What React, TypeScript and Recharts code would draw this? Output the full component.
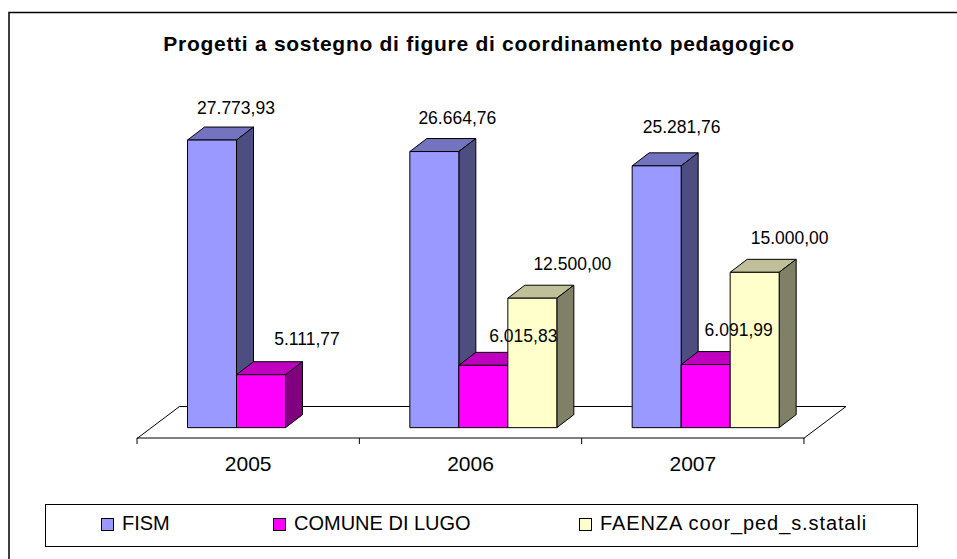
import React from 'react';
import { BarChart, Bar, XAxis, YAxis, Legend, LabelList } from 'recharts';

const categories = ['2005', '2006', '2007'];
const seriesNames = ['FISM', 'COMUNE DI LUGO', 'FAENZA coor_ped_s.statali'];
const fism = [27773.93, 26664.76, 25281.76];
const comune = [5111.77, 6015.83, 6091.99];
const faenza = [null, 12500, 15000];

const data = categories.map((name, i) => ({ name, fism: fism[i], comune: comune[i], faenza: faenza[i] }));

const WIDTH = 957;
const HEIGHT = 559;
const DEPTH_X = 17;
const DEPTH_Y = 13;
// le barre sono spostate rispetto al centro della categoria, come nel 3D di Excel
const SHIFT_X = 13.5;

// i colori delle facce: fronte, sopra, lato
const colors = {
  fism: ['#9999FF', '#7373BF', '#4D4D80'],
  comune: ['#FF00FF', '#BF00BF', '#800080'],
  faenza: ['#FFFFCC', '#BFBF99', '#808066'],
};

// spostamento delle etichette rispetto alla barra, messe a mano nell'originale
// (LabelList salta i valori nulli, quindi faenza ha solo due righe)
const labelOffsets: Record<string, number[][]> = {
  fism: [[24, -32], [23, -34], [25, -39]],
  comune: [[46, -36], [40, -29], [33, -35]],
  faenza: [[40, -34], [35, -34]],
};

const fmt = (v: number) => {
  const [a, b] = v.toFixed(2).split('.');
  return a.replace(/\B(?=(\d{3})+$)/g, '.') + ',' + b;
};

const Bar3D = (key: keyof typeof colors) => (props: any) => {
  const { x, y, width, height } = props;
  if (!height) return null;
  const [front, top, side] = colors[key];
  const l = x + SHIFT_X;
  const r = l + width;
  const b = y + height;
  return (
    <g stroke="#000" strokeWidth={1} strokeLinejoin="round">
      <polygon fill={top} points={`${l},${y} ${l + DEPTH_X},${y - DEPTH_Y} ${r + DEPTH_X},${y - DEPTH_Y} ${r},${y}`} />
      <polygon fill={side} points={`${r},${y} ${r + DEPTH_X},${y - DEPTH_Y} ${r + DEPTH_X},${b - DEPTH_Y} ${r},${b}`} />
      <rect x={l} y={y} width={width} height={height} fill={front} />
    </g>
  );
};

const valueLabel = (key: string) => (props: any) => {
  const { x, y, width, value, index } = props;
  if (value == null) return null;
  const [dx, dy] = labelOffsets[key][index];
  return (
    <text x={x + SHIFT_X + width / 2 + dx} y={y + dy} textAnchor="middle" dominantBaseline="central"
      fontFamily="Liberation Sans" fontSize={17.5} fill="#000">
      {fmt(value)}
    </text>
  );
};

const CategoryTick = (props: any) => {
  const { x, y, payload, index } = props;
  const band = 222.3;
  const axisY = y - 8;
  return (
    <g>
      <line x1={x - band / 2} x2={x - band / 2} y1={axisY} y2={axisY + 6} stroke="#000" />
      {index === categories.length - 1 && <line x1={x + band / 2} x2={x + band / 2} y1={axisY} y2={axisY + 6} stroke="#000" />}
      <text x={x} y={axisY + 25} textAnchor="middle" dominantBaseline="central" fontFamily="Liberation Sans" fontSize={21} fill="#000">
        {payload.value}
      </text>
    </g>
  );
};

const legendLeft = [101, 273, 579];
const legendSpacing = [0, 0, 0.9];

const LegendBox = ({ payload }: any) => (
  <div style={{ position: 'relative', width: 873, height: 43, border: '1px solid #000', boxSizing: 'border-box', fontFamily: 'Liberation Sans', fontSize: 20, color: '#000', background: '#fff' }}>
    {(payload || []).map((item: any, i: number) => (
      <div key={item.value} style={{ position: 'absolute', left: legendLeft[i] - 46, top: 0, lineHeight: '37px', whiteSpace: 'nowrap', letterSpacing: legendSpacing[i] }}>
        <span style={{ position: 'absolute', left: 0, top: 13, width: 13, height: 13, boxSizing: 'border-box', border: '1px solid #000', background: item.color }} />
        <span style={{ marginLeft: 21 }}>{item.value}</span>
      </div>
    ))}
  </div>
);

export default function App() {
  return (
    <div style={{ position: 'absolute', left: 0, top: 0, width: WIDTH, height: HEIGHT, background: '#fff' }}>
      <BarChart width={WIDTH} height={HEIGHT} data={data} barCategoryGap={37} barGap={0}
        margin={{ top: 117, right: 153, bottom: 48, left: 137 }}>
        {/* cornice (aperta a destra e in basso) e pavimento */}
        <polyline points="9,559 9,12.5 957,12.5" fill="none" stroke="#000" strokeWidth={1.5} />
        <text x={479} y={51} textAnchor="middle" fontFamily="Liberation Sans" fontWeight="bold" fontSize={21} letterSpacing={0.72} fill="#000">
          Progetti a sostegno di figure di coordinamento pedagogico
        </text>
        <polyline points="137,438.5 179.5,406.5 846,406.5 803.5,438.5" fill="none" stroke="#000" />
        <XAxis dataKey="name" axisLine={{ stroke: '#000' }} tickLine={false} tick={CategoryTick} interval={0} />
        <YAxis hide domain={[-1000, 30000]} />
        <Legend content={LegendBox} itemSorter={(item: any) => seriesNames.indexOf(item.value)}
          wrapperStyle={{ left: 45, top: 504, width: 873, bottom: 'auto' }} />
        <Bar dataKey="fism" name={seriesNames[0]} fill="#9999FF" isAnimationActive={false} shape={Bar3D('fism')}>
          <LabelList dataKey="fism" content={valueLabel('fism')} />
        </Bar>
        <Bar dataKey="comune" name={seriesNames[1]} fill="#FF00FF" isAnimationActive={false} shape={Bar3D('comune')}>
          <LabelList dataKey="comune" content={valueLabel('comune')} />
        </Bar>
        <Bar dataKey="faenza" name={seriesNames[2]} fill="#FFFFCC" isAnimationActive={false} shape={Bar3D('faenza')}>
          <LabelList dataKey="faenza" content={valueLabel('faenza')} />
        </Bar>
      </BarChart>
    </div>
  );
}
